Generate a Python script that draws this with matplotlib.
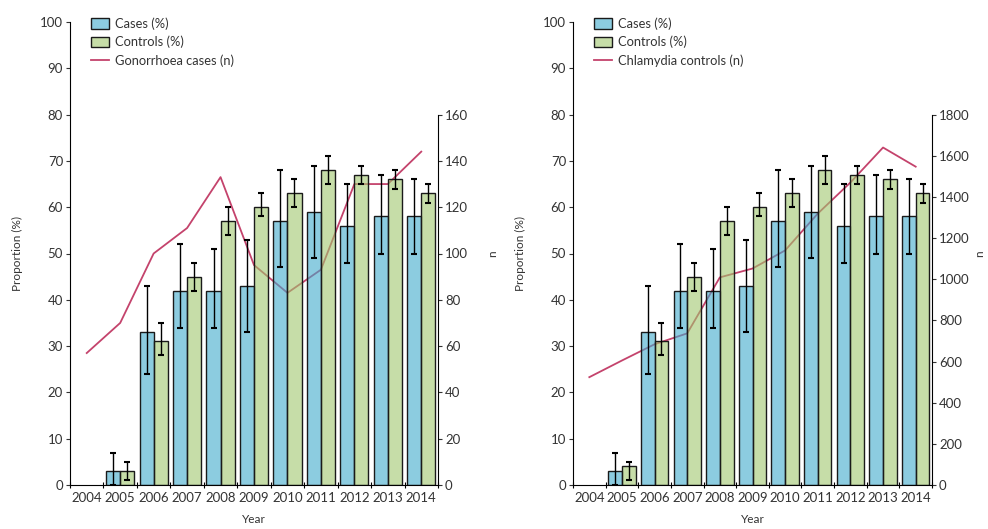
#Cases vs controls proportions by year, with counts on a second axis
import numpy as np
from matplotlib import pyplot as plt
from matplotlib.patches import Patch
from matplotlib.lines import Line2D

plt.rcParams['font.family'] = ['Lato', 'DejaVu Sans']

years = ['2004', '2005', '2006', '2007', '2008', '2009', '2010', '2011', '2012', '2013', '2014']

#Proportions (%) with lower/upper error limits
cases = [np.nan, 3, 33, 42, 42, 43, 57, 59, 56, 58, 58]
cases_lo = [np.nan, 0, 24, 34, 34, 33, 47, 49, 48, 50, 50]
cases_hi = [np.nan, 7, 43, 52, 51, 53, 68, 69, 65, 67, 66]

controls_left = [np.nan, 3, 31, 45, 57, 60, 63, 68, 67, 66, 63]
controls_right = [np.nan, 4, 31, 45, 57, 60, 63, 68, 67, 66, 63]
controls_lo = [np.nan, 1, 28, 42, 54, 58, 60, 65, 65, 64, 61]
controls_hi = [np.nan, 5, 35, 48, 60, 63, 66, 71, 69, 68, 65]

#Counts (n)
gono_cases = [57, 70, 100, 111, 133, 95, 83, 93, 130, 130, 144]
chlam_controls = [524, 605, 684, 737, 1009, 1052, 1140, 1319, 1470, 1640, 1547]

#semi transparent faces so the line shows through
c_case = (0.25, 0.67, 0.80, 0.6)
c_ctrl = (0.63, 0.78, 0.43, 0.6)
c_line = '#c4436c'
edge = '#1a1a1a'


def panel(ax, ctrl, counts, nmax, nstep, linelabel, npad):
    x = np.arange(len(years))
    w = 0.42
    ca = np.array(cases, dtype=float)
    ct = np.array(ctrl, dtype=float)
    ax2 = ax.twinx()
    ax2.plot(x, counts, color=c_line, lw=1.3)
    ax2.set_ylim(0, nmax * 1.25)
    ax2.set_yticks(np.arange(0, nmax + 1, nstep))
    ax2.spines['right'].set_bounds(0, nmax)
    for s in ['top', 'left', 'bottom']:
        ax2.spines[s].set_visible(False)
    ax2.tick_params(axis='y', direction='out', length=3, labelsize=9.5, pad=2, colors='#333333')
    ax2.set_ylabel('n', fontsize=8.5, labelpad=npad, color='#333333')

    #bars above the line
    ax.set_zorder(ax2.get_zorder() + 1)
    ax.patch.set_visible(False)
    ax.bar(x - w / 2, ca, w, color=c_case, edgecolor=edge, lw=1)
    ax.bar(x + w / 2, ct, w, color=c_ctrl, edgecolor=edge, lw=1)
    ax.errorbar(x - w / 2, ca, yerr=[ca - np.array(cases_lo), np.array(cases_hi) - ca],
                fmt='none', ecolor='black', elinewidth=1, capsize=2, capthick=1.5)
    ax.errorbar(x + w / 2, ct, yerr=[ct - np.array(controls_lo), np.array(controls_hi) - ct],
                fmt='none', ecolor='black', elinewidth=1, capsize=2, capthick=1.5)

    ax.set_xlim(-0.5, len(years) - 0.5)
    ax.set_ylim(0, 100)
    ax.set_yticks(np.arange(0, 101, 10))
    ax.set_xticks(np.arange(-0.5, len(years)), [''] * (len(years) + 1))
    ax.set_xticks(x, years, minor=True)
    ax.tick_params(axis='x', which='major', direction='inout', length=5)
    ax.tick_params(axis='x', which='minor', length=0, labelsize=9.5, pad=5, colors='#333333')
    ax.tick_params(axis='y', direction='out', length=3, labelsize=9.5, pad=2, colors='#333333')
    for s in ['top', 'right']:
        ax.spines[s].set_visible(False)
    ax.set_xlabel('Year', fontsize=8.5, labelpad=7, color='#333333')
    ax.set_ylabel('Proportion (%)', fontsize=8.5, labelpad=12, color='#333333')

    handles = [Patch(facecolor=c_case, edgecolor=edge), Patch(facecolor=c_ctrl, edgecolor=edge),
               Line2D([], [], color=c_line, lw=1.3)]
    ax.legend(handles, ['Cases (%)', 'Controls (%)', linelabel], loc='upper left',
              bbox_to_anchor=(0.025, 1.035), frameon=False, fontsize=9.3, labelcolor='#333333',
              handlelength=1.4, handleheight=0.9, labelspacing=0.45, handletextpad=0.5)


fig = plt.figure(figsize=(9.88, 5.29), dpi=100)
axL = fig.add_axes([70 / 988, 44 / 529, 368 / 988, 463 / 529])
axR = fig.add_axes([573 / 988, 44 / 529, 359 / 988, 463 / 529])
panel(axL, controls_left, gono_cases, 160, 20, 'Gonorrhoea cases (n)', 14)
panel(axR, controls_right, chlam_controls, 1800, 200, 'Chlamydia controls (n)', 3)

fig.savefig('out.png', dpi=100)
